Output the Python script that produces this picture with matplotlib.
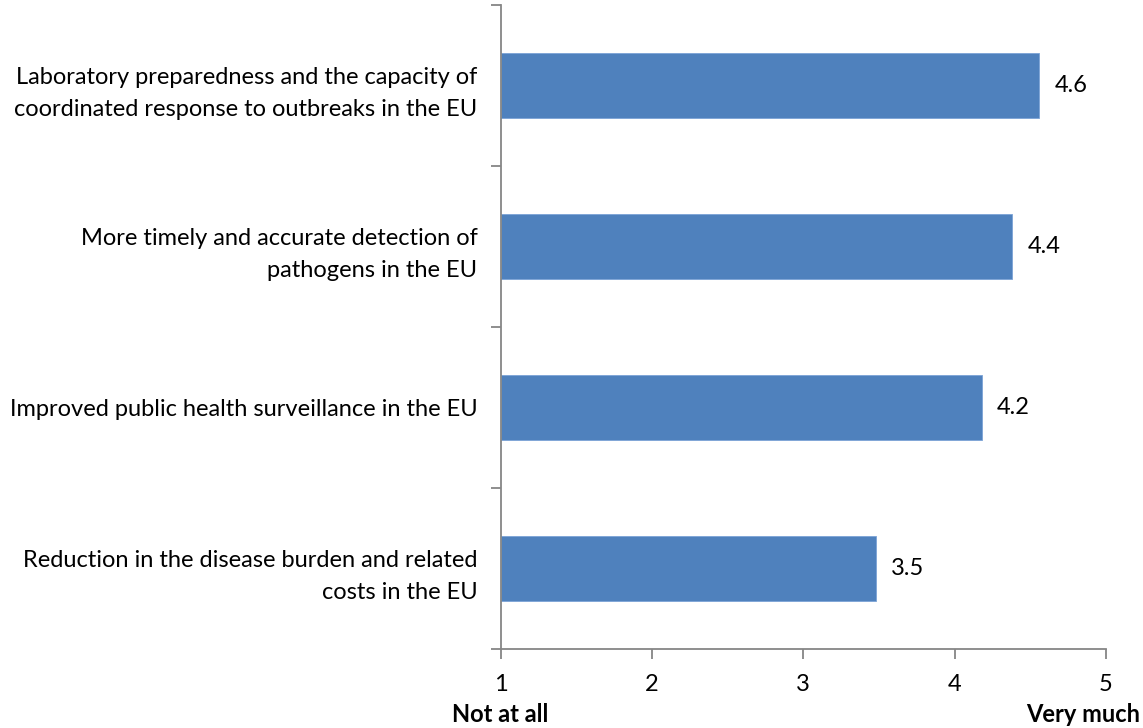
import matplotlib
matplotlib.use("Agg")
import matplotlib.pyplot as plt

plt.rcParams['font.family'] = ['Lato', 'DejaVu Sans']

categories = [
    "Laboratory preparedness and the capacity of\ncoordinated response to outbreaks in the EU",
    "More timely and accurate detection of\npathogens in the EU",
    "Improved public health surveillance in the EU",
    "Reduction in the disease burden and related\ncosts in the EU",
]
scores = [4.56, 4.38, 4.18, 3.48]
x_ticks = [1, 2, 3, 4, 5]
scale_low = "Not at all"
scale_high = "Very much"

bar_color = "#4F81BD"
axis_color = "#868686"
fs = 17

fig = plt.figure(figsize=(11.43, 7.28), dpi=100)
ax = fig.add_axes([0.4379, 0.1085, 0.5297, 0.8846])

n = len(categories)
pos = list(range(n))
ax.barh(pos, [s - 1 for s in scores], left=1, height=0.4, color=bar_color,
        edgecolor="#7BA3D6", linewidth=0.6)
for p, s in zip(pos, scores):
    ax.text(s + 0.1, p, f"{s:.1f}", va="center", ha="left", fontsize=fs)

ax.set_xlim(1, 5)
ax.set_ylim(n - 0.5, -0.5)
ax.set_xticks(x_ticks)
ax.set_xticklabels([str(t) for t in x_ticks], fontsize=fs)
ax.set_yticks([i - 0.5 for i in range(n + 1)])
ax.set_yticklabels([])
ax.set_yticks(pos, minor=True)
ax.set_yticklabels(categories, minor=True, fontsize=fs, ha="right",
                   linespacing=1.65)
ax.tick_params(axis="y", which="minor", length=0, pad=16.5)
ax.tick_params(axis="y", which="major", length=7, width=1.3, color=axis_color)
ax.tick_params(axis="x", length=7, width=1.3, color=axis_color, pad=11)
for side in ("top", "right"):
    ax.spines[side].set_visible(False)
for side in ("left", "bottom"):
    ax.spines[side].set_color(axis_color)
    ax.spines[side].set_linewidth(1.3)

fig.text(500 / 1143, 1 - 715 / 728, scale_low, ha="center", va="center",
         fontsize=fs, fontweight="bold")
fig.text(1140 / 1143, 1 - 715 / 728, scale_high, ha="right", va="center",
         fontsize=fs, fontweight="bold")

fig.savefig("out.png", dpi=100, facecolor="white")
